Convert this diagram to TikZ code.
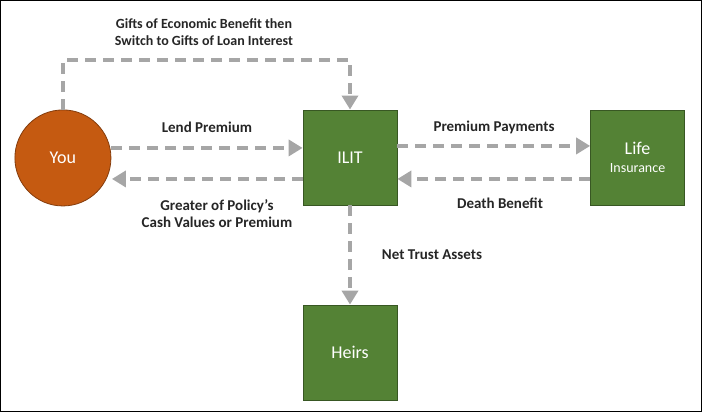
\documentclass[tikz,border=0pt]{standalone}
\usepackage{fontspec}
\setmainfont{Carlito}
\usetikzlibrary{arrows.meta}
\definecolor{gr}{RGB}{84,130,53}
\definecolor{grb}{RGB}{56,87,35}
\definecolor{org}{RGB}{197,90,17}
\definecolor{orb}{RGB}{132,60,12}
\definecolor{ar}{RGB}{166,166,166}
\begin{document}
\begin{tikzpicture}[x=1pt,y=-1pt,
 box/.style={draw=grb,fill=gr,line width=0.8pt,minimum width=94pt,minimum height=95pt,inner sep=0pt,text=white,font=\fontsize{18}{20}\selectfont},
 conn/.style={draw=ar,line width=3.5pt,dash pattern=on 11pt off 7pt,-{Triangle[width=16pt,length=14pt]}},
 lab/.style={font=\bfseries\fontsize{15}{17}\selectfont,text=black!85,align=center}]
\draw[black,line width=0.8pt,fill=white] (0.5,0.5) rectangle (701.5,411.5);
\node[circle,draw=orb,fill=org,line width=0.8pt,minimum size=96pt,inner sep=0pt,text=white,font=\fontsize{18}{20}\selectfont] (you) at (63,158) {You};
\node[box] (ilit) at (350,157.5) {ILIT};
\node[box,align=center] (life) at (637.5,157.5) {Life\\[-2pt]{\fontsize{14}{16}\selectfont Insurance}};
\node[box] (heirs) at (350,352.5) {Heirs};
\coordinate (c1) at (63,60);
\coordinate (c2) at (350,60);
\draw[conn] (you.north) -- (c1) -- (c2) -- (ilit.north);
\draw[conn] (you.east |- 0,148) -- (ilit.west |- 0,148);
\draw[conn] (ilit.west |- 0,179) -- (112,179);
\draw[conn] (ilit.east |- 0,146) -- (life.west |- 0,146);
\draw[conn] (life.west |- 0,179) -- (ilit.east |- 0,179);
\draw[conn] (ilit.south) -- (heirs.north);
\node[lab,font=\bfseries\fontsize{14}{17}\selectfont] (t1) at (204,32) {Gifts of Economic Benefit then\\Switch to Gifts of Loan Interest};
\node[lab] (t2) at (207,127) {Lend Premium};
\node[lab] (t3) at (217,214) {Greater of Policy’s\\Cash Values or Premium};
\node[lab] (t4) at (494,127) {Premium Payments};
\node[lab] (t5) at (500,203) {Death Benefit};
\node[lab] (t6) at (432,255) {Net Trust Assets};
\end{tikzpicture}
\end{document}
